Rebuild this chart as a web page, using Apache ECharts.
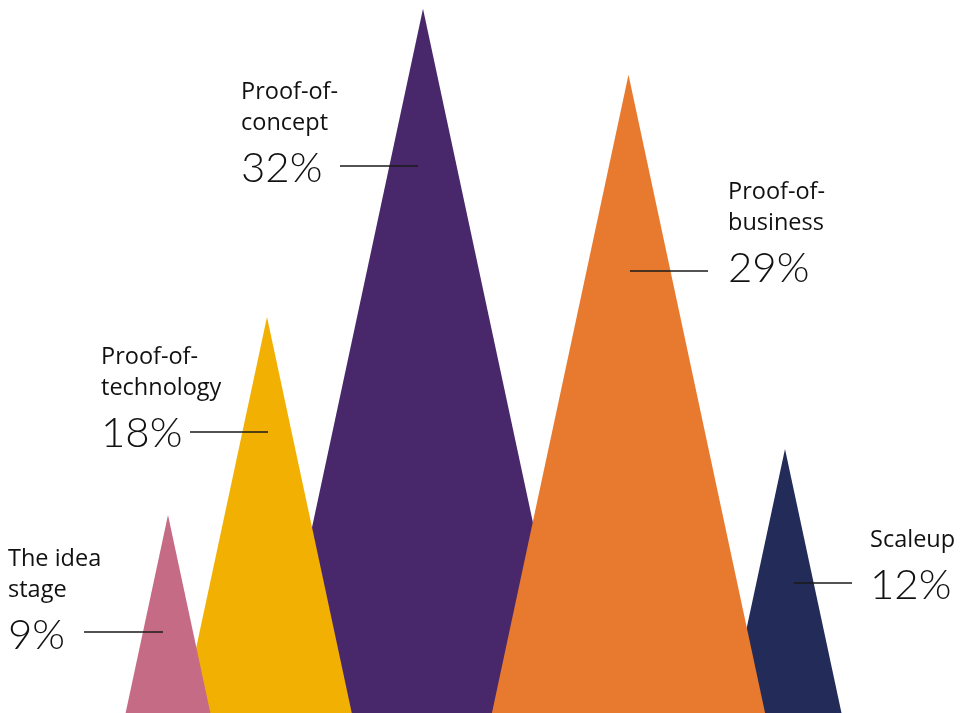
<!DOCTYPE html>
<html>
<head>
<meta charset="utf-8">
<script src="https://cdn.jsdelivr.net/npm/echarts@6/dist/echarts.min.js"></script>
<style>
  html, body { margin: 0; padding: 0; background: #ffffff; }
  #chart { width: 968px; height: 713px; }
</style>
</head>
<body>
<div id="chart"></div>
<script>
// Startup stages and the share of companies in each
const stages = ['The idea\nstage', 'Proof-of-\ntechnology', 'Proof-of-\nconcept', 'Proof-of-\nbusiness', 'Scaleup'];
const shares = [9, 18, 32, 29, 12];
const colors = ['#C56B86', '#F2B002', '#48286A', '#E87A30', '#232C58'];

// Layout: horizontal centre of each peak (px), label anchor and leader line
const peakX = [168, 267, 423, 628.5, 785];
const labelX = [9, 102, 242, 729, 871];
const labelY = [635, 433, 168, 268, 585];
const leaderLine = [[84, 163, 632], [190, 268, 432], [340, 418, 166], [630, 708, 271], [794, 852, 583]];
// back-to-front painting order
const paintOrder = [2, 4, 3, 1, 0];
const SLOPE = 0.214; // half-width of a peak relative to its height

const chart = echarts.init(document.getElementById('chart'), null, { renderer: 'canvas' });

const peakData = paintOrder.map(i => ({ value: [peakX[i], shares[i], i] }));

function renderPeak(params, api) {
  const i = api.value(2);
  const top = api.coord([api.value(0), api.value(1)]);
  const base = api.coord([api.value(0), 0]);
  const h = base[1] - top[1];
  const half = h * SLOPE;
  return {
    type: 'polygon',
    shape: { points: [[top[0], top[1]], [top[0] + half, base[1]], [top[0] - half, base[1]]] },
    style: { fill: colors[i] }
  };
}

function renderLabel(params, api) {
  const i = api.value(2);
  const ln = leaderLine[i];
  return {
    type: 'group',
    children: [
      {
        type: 'line',
        shape: { x1: ln[0], y1: ln[2], x2: ln[1], y2: ln[2] },
        style: { stroke: '#1a1a1a', lineWidth: 1.3 }
      },
      {
        type: 'text',
        style: {
          text: stages[i],
          x: labelX[i] - 1,
          y: labelY[i] - 29,
          fill: '#111111',
          font: '400 23.5px "Open Sans", sans-serif',
          lineHeight: 31,
          verticalAlign: 'bottom',
          align: 'left'
        }
      },
      {
        type: 'text',
        style: {
          text: api.value(1) + '%',
          x: labelX[i] - 1,
          y: labelY[i],
          fill: '#111111',
          font: '300 42px Lato, sans-serif',
          verticalAlign: 'middle',
          align: 'left'
        }
      }
    ]
  };
}

chart.setOption({
  animation: false,
  backgroundColor: '#ffffff',
  grid: { left: 0, right: 0, top: 0, bottom: 0 },
  xAxis: { type: 'value', min: 0, max: 968, show: false },
  yAxis: { type: 'value', min: 0, max: 32.4, show: false },
  series: [
    {
      type: 'custom',
      renderItem: renderPeak,
      data: peakData,
      clip: false,
      z: 1
    },
    {
      type: 'custom',
      renderItem: renderLabel,
      data: shares.map((v, i) => ({ value: [peakX[i], v, i] })),
      clip: false,
      z: 2
    }
  ]
});
</script>
</body>
</html>
